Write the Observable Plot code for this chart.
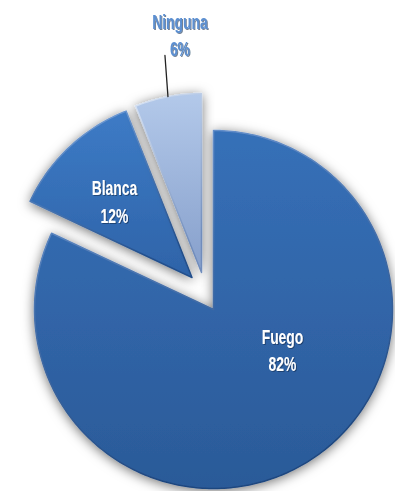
<!DOCTYPE html>
<html><head><meta charset="utf-8">
<script src="https://cdn.jsdelivr.net/npm/d3@7"></script>
<script src="https://cdn.jsdelivr.net/npm/@observablehq/plot@0.6"></script>
<style>html,body{margin:0;padding:0;background:#fff;overflow:hidden}</style>
</head><body><div id="chart"></div>
<script>
// ---- data ----
const categories = ["Fuego", "Blanca", "Ninguna"];
const values = [82, 12, 6];
const percentLabels = ["82%", "12%", "6%"];

// ---- layout / style ----
const W = 395, H = 491, CX = 213, CY = 309, R = 179;
const explode = {Fuego: [0, 0], Blanca: [-21.5, 32], Ninguna: [-12, 37]}; // y-up units
const grad = {
  Fuego: ["#3670b8", "#2b5a98"],
  Blanca: ["#3d7bc6", "#2e63a8"],
  Ninguna: ["#b3c9ea", "#869fcb"]
};
const rim = {
  Fuego: ["#6f9ad6", "#1f477f"],
  Blanca: ["#78a4de", "#234f8c"],
  Ninguna: ["#dbe6f6", "#6f8cbc"]
};

const arcs = d3.pie().sort(null).value(d => d.value)(
  categories.map((c, i) => ({name: c, value: values[i], label: percentLabels[i]}))
);

const slices = arcs.map(a => {
  const [ox, oy] = explode[a.data.name];
  const pts = [{x: ox, y: oy}];
  const n = Math.max(4, Math.ceil((a.endAngle - a.startAngle) / (Math.PI / 180)));
  for (let k = 0; k <= n; k++) {
    const t = a.startAngle + (a.endAngle - a.startAngle) * k / n;
    pts.push({x: ox + R * Math.sin(t), y: oy + R * Math.cos(t)});
  }
  pts.push({x: ox, y: oy});
  const mid = (a.startAngle + a.endAngle) / 2;
  return {name: a.data.name, label: a.data.name + "\n" + a.data.label, ox, oy, mid, pts};
});

const at = (s, f) => ({x: s.ox + f * R * Math.sin(s.mid), y: s.oy + f * R * Math.cos(s.mid), label: s.label});
const byName = Object.fromEntries(slices.map(s => [s.name, s]));
const nin = byName["Ninguna"];
const leaderBase = at(nin, 1.0);
const leader = [leaderBase, {x: leaderBase.x - 3, y: leaderBase.y + 0.23 * R}];

const textStyle = {text: "label", fontFamily: "Liberation Sans, Arial, sans-serif",
  fontWeight: "bold", fontSize: 21, lineHeight: 1.3, textAnchor: "middle"};

const marks = [];
for (const s of slices) {
  marks.push(Plot.line(s.pts, {x: "x", y: "y", fill: `url(#g-${s.name})`,
    stroke: `url(#r-${s.name})`, strokeWidth: 1.5, curve: "linear"}));
}
marks.push(Plot.line(leader, {x: "x", y: "y", stroke: "#222", strokeWidth: 1.3}));
marks.push(Plot.text([at(byName["Fuego"], 0.5)], {...textStyle, x: "x", y: "y", fill: "white", dx: 21, dy: -36}));
marks.push(Plot.text([at(byName["Blanca"], 0.6)], {...textStyle, x: "x", y: "y", fill: "white", dx: -4, dy: 1}));
marks.push(Plot.text([at(nin, 1.33)], {...textStyle, x: "x", y: "y", fill: "#5b8fd1", dx: 23, dy: -5}));

const svg = Plot.plot({
  width: W, height: H, margin: 0,
  x: {domain: [-CX, W - CX], axis: null},
  y: {domain: [-(H - CY), CY], axis: null},
  style: {background: "white"},
  marks
});

const defs = d3.select(svg).insert("defs", ":first-child");
for (const name of categories) {
  const g = defs.append("linearGradient").attr("id", `g-${name}`).attr("x1", 0).attr("y1", 0).attr("x2", 0).attr("y2", 1);
  g.append("stop").attr("offset", "0%").attr("stop-color", grad[name][0]);
  g.append("stop").attr("offset", "100%").attr("stop-color", grad[name][1]);
  const r = defs.append("linearGradient").attr("id", `r-${name}`).attr("x1", 0).attr("y1", 0).attr("x2", 0.3).attr("y2", 1);
  r.append("stop").attr("offset", "0%").attr("stop-color", rim[name][0]);
  r.append("stop").attr("offset", "100%").attr("stop-color", rim[name][1]);
}
const f = defs.append("filter").attr("id", "shadow").attr("x", "-20%").attr("y", "-20%").attr("width", "140%").attr("height", "140%");
f.append("feDropShadow").attr("dx", 0).attr("dy", 2).attr("stdDeviation", 6)
  .attr("flood-color", "#000").attr("flood-opacity", 0.55);
const tf = defs.append("filter").attr("id", "tshadow").attr("x", "-20%").attr("y", "-20%").attr("width", "140%").attr("height", "140%");
tf.append("feDropShadow").attr("dx", 1).attr("dy", 1).attr("stdDeviation", 0.7)
  .attr("flood-color", "#102a50").attr("flood-opacity", 0.6);

const lineGroups = d3.select(svg).selectAll('g[aria-label="line"]').nodes();
lineGroups.slice(0, slices.length).forEach(n => n.setAttribute("filter", "url(#shadow)"));
d3.select(svg).selectAll('g[aria-label="text"]').attr("filter", "url(#tshadow)");
// condensed look of the original labels
d3.select(svg).selectAll('g[aria-label="text"] text').each(function() {
  const t = this.getAttribute("transform") || "";
  this.setAttribute("transform", t + " scale(0.66,1)");
});

document.getElementById("chart").appendChild(svg);
</script>
</body></html>
